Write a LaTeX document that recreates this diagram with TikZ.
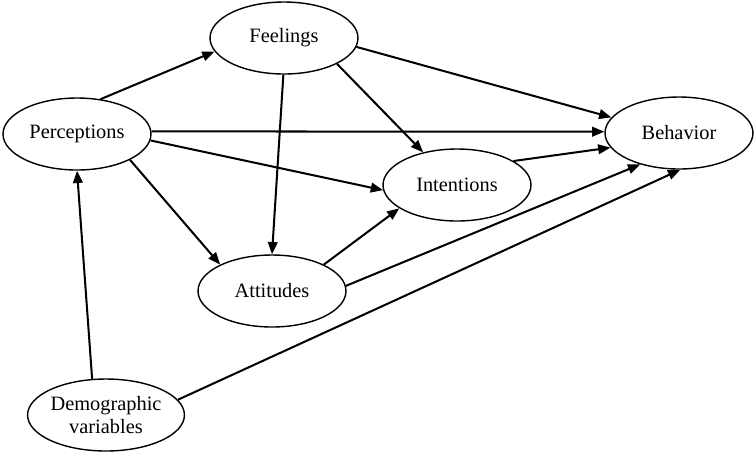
\documentclass[tikz,border=0pt]{standalone}
\usepackage{fontspec}
\setmainfont{Liberation Serif}
\usepackage{tikz}
\usetikzlibrary{arrows.meta, shapes.geometric}

\begin{document}
\begin{tikzpicture}[x=0.02cm, y=-0.02cm,
    var/.style={draw, ellipse, line width=0.8pt, minimum width=2.96cm, minimum height=1.44cm,
      inner sep=0pt, align=center, font=\fontsize{11.6}{12.8}\selectfont},
    path/.style={line width=1.15pt, -{Triangle[length=7pt, width=5.5pt]}}
  ]
    \useasboundingbox (0,0) rectangle (756,454);
    \node[var] (feel) at (284,38) {Feelings};
    \node[var] (perc) at (77,134) {Perceptions};
    \node[var] (beh) at (679,133) {Behavior};
    \node[var] (int) at (457,185) {Intentions};
    \node[var] (att) at (272,291) {Attitudes};
    \node[var] (demo) at (106,415) {Demographic\\variables};
    % paths
    \draw[path] (perc.56) -- (feel.191);
    \draw[path] (perc.2) -- (beh.179);
    \draw[path] (perc.-5) -- (int.184);
    \draw[path] (perc.-26) -- (att.153);
    \draw[path] (feel.269) -- (att.90);
    \draw[path] (feel.-26) -- (int.136);
    \draw[path] (feel.-7) -- (beh.167);
    \draw[path] (int.23) -- (beh.192);
    \draw[path] (att.27) -- (int.202);
    \draw[path] (att.4) -- (beh.219);
    \draw[path] (demo.111) -- (perc.270);
    \draw[path] (demo.12) -- (beh.272);
  \end{tikzpicture}
\end{document}
